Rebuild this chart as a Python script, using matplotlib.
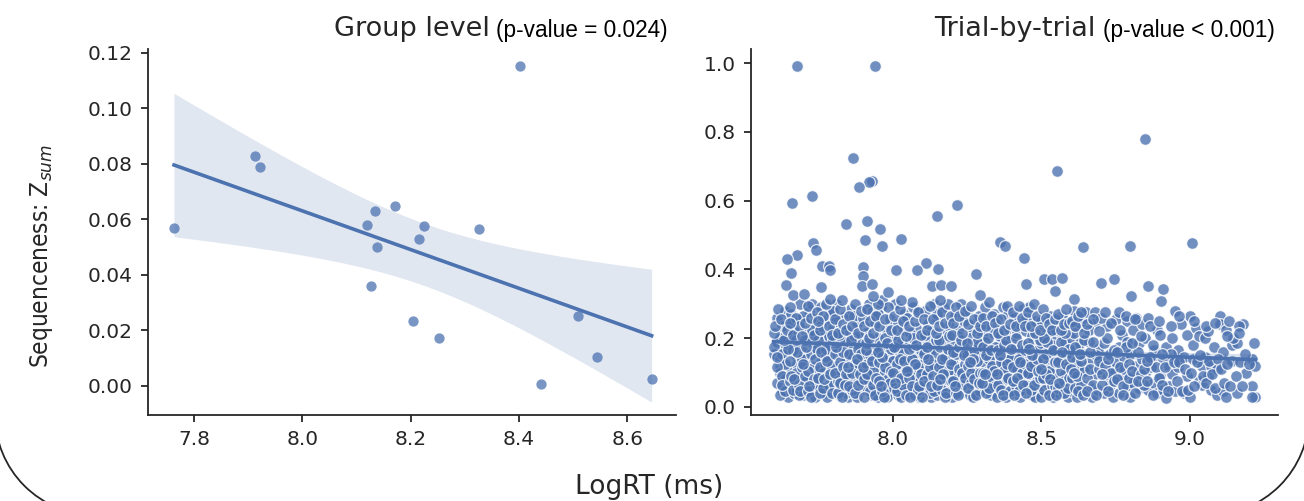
import numpy as np
import matplotlib
matplotlib.use("Agg")
import matplotlib.pyplot as plt
from matplotlib.patches import Arc

# ---------------- data ----------------
group_x = [7.763, 7.913, 7.922, 8.119, 8.135, 8.171, 8.138, 8.126, 8.224,
           8.216, 8.204, 8.252, 8.327, 8.402, 8.440, 8.509, 8.545, 8.645]
group_y = [0.057, 0.083, 0.079, 0.058, 0.063, 0.065, 0.050, 0.036, 0.0575,
           0.053, 0.0235, 0.0172, 0.0566, 0.1152, 0.0008, 0.0253, 0.0104, 0.0025]

trial_outliers = [
    (7.680, 0.992), (7.941, 0.992), (8.849, 0.780), (7.866, 0.724), (8.553, 0.687),
    (7.930, 0.658), (7.922, 0.655), (7.887, 0.639), (7.728, 0.614), (7.662, 0.592),
    (8.216, 0.588), (8.149, 0.555), (7.842, 0.533), (7.914, 0.540), (7.958, 0.518),
    (8.028, 0.489), (7.907, 0.485), (7.732, 0.478), (7.963, 0.468), (8.361, 0.479),
    (8.378, 0.469), (8.641, 0.466), (8.799, 0.468), (9.008, 0.478), (7.742, 0.456),
    (7.678, 0.443), (7.645, 0.429), (8.443, 0.434), (8.114, 0.420), (7.762, 0.410),
    (7.785, 0.410), (7.790, 0.398), (7.900, 0.407), (8.011, 0.398), (8.081, 0.398),
    (8.152, 0.402), (7.658, 0.390), (8.281, 0.387), (7.902, 0.380), (8.510, 0.373),
    (8.536, 0.371), (8.569, 0.376), (8.744, 0.371), (8.700, 0.361), (8.860, 0.351),
    (8.910, 0.343), (8.448, 0.358), (7.641, 0.354), (8.133, 0.351), (8.164, 0.354),
    (8.198, 0.351), (7.896, 0.351), (7.931, 0.358), (7.759, 0.348), (8.546, 0.337),
    (7.664, 0.327), (7.703, 0.329), (8.293, 0.327), (8.802, 0.324), (7.984, 0.334),
    (7.935, 0.324), (8.904, 0.307), (8.610, 0.314), (7.790, 0.314),
]

trial_cloud_a = [
    (7.60,0.155),(7.61,0.26),(7.61,0.19),(7.62,0.12),(7.62,0.10),(7.63,0.215),(7.63,0.05),
    (7.64,0.08),(7.64,0.165),(7.64,0.28),(7.63,0.235),(7.62,0.14),
    (7.65,0.03),(7.66,0.11),(7.66,0.27),(7.67,0.22),(7.67,0.06),(7.68,0.185),(7.68,0.145),
    (7.66,0.245),(7.69,0.09),(7.69,0.30),(7.67,0.04),(7.68,0.125),(7.65,0.20),(7.69,0.255),
    (7.70,0.035),(7.70,0.16),(7.71,0.22),(7.71,0.075),(7.72,0.28),(7.72,0.125),(7.73,0.19),
    (7.73,0.05),(7.74,0.245),(7.74,0.10),(7.71,0.14),(7.73,0.30),(7.70,0.265),(7.72,0.205),(7.74,0.03),
    (7.75,0.17),(7.75,0.065),(7.76,0.29),(7.76,0.13),(7.77,0.21),(7.77,0.04),(7.78,0.255),
    (7.78,0.095),(7.79,0.155),(7.79,0.18),(7.76,0.235),(7.77,0.115),(7.78,0.03),(7.79,0.275),(7.75,0.195),
    (7.80,0.06),(7.80,0.23),(7.81,0.12),(7.81,0.30),(7.82,0.17),(7.82,0.035),(7.83,0.205),
    (7.83,0.085),(7.84,0.265),(7.84,0.145),(7.81,0.25),(7.82,0.105),(7.83,0.05),(7.84,0.19),(7.80,0.28),
    (7.85,0.03),(7.85,0.22),(7.86,0.135),(7.86,0.285),(7.87,0.07),(7.87,0.175),(7.88,0.245),
    (7.88,0.105),(7.89,0.20),(7.89,0.045),(7.86,0.155),(7.87,0.265),(7.88,0.03),(7.89,0.12),(7.85,0.09),
    (7.90,0.26),(7.90,0.14),(7.91,0.06),(7.91,0.215),(7.92,0.30),(7.92,0.10),(7.93,0.17),
    (7.93,0.035),(7.94,0.24),(7.94,0.125),(7.91,0.185),(7.92,0.08),(7.93,0.275),(7.94,0.05),(7.90,0.155),
    (7.95,0.20),(7.95,0.03),(7.96,0.11),(7.96,0.29),(7.97,0.16),(7.97,0.065),(7.98,0.225),
    (7.98,0.135),(7.99,0.045),(7.99,0.255),(7.96,0.18),(7.97,0.095),(7.98,0.03),(7.99,0.145),(7.95,0.27),
    (8.00,0.08),(8.00,0.21),(8.01,0.15),(8.01,0.30),(8.02,0.035),(8.02,0.245),(8.03,0.12),
    (8.03,0.185),(8.04,0.06),(8.04,0.27),(8.01,0.10),(8.02,0.165),(8.03,0.03),(8.04,0.225),(8.00,0.135),
    (8.05,0.26),(8.05,0.045),(8.06,0.19),(8.06,0.11),(8.07,0.29),(8.07,0.07),(8.08,0.155),
    (8.08,0.23),(8.09,0.03),(8.09,0.125),(8.06,0.215),(8.07,0.175),(8.08,0.09),(8.09,0.275),(8.05,0.14),
    (8.10,0.05),(8.10,0.20),(8.11,0.135),(8.11,0.28),(8.12,0.085),(8.12,0.24),(8.13,0.165),
    (8.13,0.03),(8.14,0.115),(8.14,0.30),(8.11,0.06),(8.12,0.185),(8.13,0.22),(8.14,0.15),(8.10,0.105),
    (8.15,0.255),(8.15,0.035),(8.16,0.175),(8.16,0.10),(8.17,0.29),(8.17,0.06),(8.18,0.215),
    (8.18,0.14),(8.19,0.045),(8.19,0.235),(8.16,0.125),(8.17,0.195),(8.18,0.08),(8.19,0.16),(8.15,0.27),
    (8.20,0.03),(8.20,0.19),(8.21,0.12),(8.21,0.265),(8.22,0.07),(8.22,0.225),(8.23,0.15),
    (8.23,0.30),(8.24,0.05),(8.24,0.175),(8.21,0.095),(8.22,0.205),(8.23,0.04),(8.24,0.25),(8.20,0.135),
    (8.25,0.28),(8.25,0.085),(8.26,0.16),(8.26,0.035),(8.27,0.22),(8.27,0.115),(8.28,0.06),
    (8.28,0.245),(8.29,0.18),(8.29,0.135),(8.26,0.20),(8.27,0.03),(8.28,0.10),(8.29,0.265),(8.25,0.15),
    (8.30,0.05),(8.30,0.21),(8.31,0.125),(8.31,0.29),(8.32,0.08),(8.32,0.17),(8.33,0.235),
    (8.33,0.035),(8.34,0.145),(8.34,0.27),(8.31,0.19),(8.32,0.105),(8.33,0.06),(8.34,0.215),(8.30,0.155),
    (8.35,0.255),(8.35,0.03),(8.36,0.185),(8.36,0.095),(8.37,0.29),(8.37,0.14),(8.38,0.055),
    (8.38,0.225),(8.39,0.165),(8.39,0.11),(8.36,0.205),(8.37,0.075),(8.38,0.03),(8.39,0.27),(8.35,0.12),
    (8.40,0.04),(8.40,0.195),(8.41,0.13),(8.41,0.26),(8.42,0.07),(8.42,0.215),(8.43,0.155),
    (8.43,0.03),(8.44,0.09),(8.44,0.285),(8.41,0.175),(8.42,0.11),(8.43,0.24),(8.44,0.05),(8.40,0.145),
    (8.45,0.22),(8.45,0.065),(8.46,0.15),(8.46,0.29),(8.47,0.035),(8.47,0.18),(8.48,0.11),
    (8.48,0.25),(8.49,0.045),(8.49,0.165),(8.46,0.095),(8.47,0.205),(8.48,0.03),(8.49,0.125),(8.45,0.26),
    (8.50,0.03),(8.50,0.185),(8.51,0.12),(8.51,0.235),(8.52,0.07),(8.52,0.16),(8.53,0.265),
    (8.53,0.045),(8.54,0.205),(8.54,0.10),(8.51,0.05),(8.52,0.215),(8.53,0.14),(8.54,0.03),(8.50,0.25),
    (8.55,0.17),(8.55,0.085),(8.56,0.245),(8.56,0.04),(8.57,0.13),(8.57,0.21),(8.58,0.06),
    (8.58,0.185),(8.59,0.115),(8.59,0.03),(8.56,0.15),(8.57,0.265),(8.58,0.095),(8.55,0.225),
    (8.60,0.045),(8.60,0.20),(8.61,0.13),(8.61,0.28),(8.62,0.07),(8.62,0.17),(8.63,0.235),
    (8.63,0.10),(8.64,0.05),(8.64,0.155),(8.61,0.215),(8.62,0.03),(8.63,0.185),(8.64,0.26),
    (8.65,0.12),(8.65,0.275),(8.66,0.06),(8.66,0.19),(8.67,0.14),(8.67,0.03),(8.68,0.245),
    (8.68,0.095),(8.69,0.17),(8.69,0.05),(8.66,0.225),(8.68,0.275),
    (8.70,0.13),(8.71,0.185),(8.71,0.04),(8.72,0.235),(8.72,0.09),(8.73,0.155),(8.74,0.03),
    (8.74,0.11),(8.70,0.26),(8.73,0.065),(8.72,0.20),
    (8.75,0.255),(8.75,0.13),(8.76,0.04),(8.76,0.175),(8.77,0.09),(8.77,0.21),(8.78,0.145),
    (8.79,0.06),(8.79,0.25),(8.78,0.11),(8.76,0.275),(8.79,0.19),
    (8.80,0.03),(8.80,0.155),(8.81,0.225),(8.81,0.09),(8.82,0.12),(8.82,0.26),(8.83,0.055),
    (8.83,0.185),(8.84,0.14),(8.84,0.24),(8.81,0.07),
    (8.85,0.20),(8.85,0.10),(8.86,0.05),(8.86,0.26),(8.87,0.13),(8.88,0.07),(8.88,0.165),
    (8.89,0.225),(8.89,0.04),(8.87,0.115),
    (8.90,0.21),(8.90,0.09),(8.91,0.14),(8.91,0.05),(8.92,0.025),(8.92,0.175),(8.93,0.06),
    (8.93,0.12),(8.94,0.20),(8.94,0.095),
    (8.95,0.28),(8.95,0.045),(8.96,0.165),(8.96,0.115),(8.97,0.24),(8.98,0.04),(8.98,0.145),
    (8.99,0.21),(8.99,0.09),
    (9.00,0.265),(9.00,0.03),(9.01,0.18),(9.01,0.14),(9.02,0.23),(9.03,0.075),(9.03,0.205),
    (9.04,0.12),(9.04,0.065),
    (9.05,0.20),(9.05,0.145),(9.06,0.09),(9.06,0.22),(9.07,0.12),(9.07,0.05),(9.08,0.175),
    (9.09,0.035),(9.09,0.11),
    (9.10,0.265),(9.10,0.24),(9.11,0.045),(9.11,0.16),(9.12,0.225),(9.12,0.03),(9.13,0.25),
    (9.14,0.18),(9.14,0.135),
    (9.16,0.185),(9.16,0.04),(9.17,0.13),(9.18,0.24),(9.19,0.10),(9.21,0.14),(9.21,0.06),
    (9.22,0.03),(9.21,0.03),(9.22,0.12),
]

trial_cloud_b = [
    (7.61,0.07),(7.62,0.035),(7.60,0.175),(7.63,0.155),(7.64,0.125),(7.61,0.115),(7.63,0.09),
    (7.62,0.20),(7.64,0.045),(7.60,0.215),(7.63,0.065),(7.61,0.145),
    (7.655,0.075),(7.665,0.165),(7.675,0.10),(7.685,0.035),(7.695,0.14),(7.655,0.135),(7.665,0.05),
    (7.675,0.195),(7.685,0.065),(7.695,0.115),(7.66,0.09),(7.68,0.16),(7.69,0.045),(7.67,0.08),(7.65,0.17),
    (7.705,0.09),(7.715,0.045),(7.725,0.155),(7.735,0.115),(7.745,0.065),(7.705,0.195),(7.715,0.105),
    (7.725,0.03),(7.735,0.08),(7.745,0.17),(7.70,0.125),(7.72,0.06),(7.74,0.14),(7.73,0.225),(7.71,0.175),
    (7.755,0.04),(7.765,0.10),(7.775,0.145),(7.785,0.065),(7.795,0.12),(7.755,0.115),(7.765,0.055),
    (7.775,0.17),(7.785,0.205),(7.795,0.04),(7.75,0.085),(7.77,0.08),(7.79,0.095),(7.76,0.16),(7.78,0.135),
    (7.805,0.155),(7.815,0.075),(7.825,0.13),(7.835,0.16),(7.845,0.04),(7.805,0.10),(7.815,0.04),
    (7.825,0.07),(7.835,0.115),(7.845,0.095),(7.80,0.195),(7.82,0.21),(7.84,0.065),(7.83,0.03),(7.81,0.175),
    (7.855,0.155),(7.865,0.05),(7.875,0.125),(7.885,0.17),(7.895,0.075),(7.855,0.06),(7.865,0.10),
    (7.875,0.04),(7.885,0.065),(7.895,0.155),(7.85,0.115),(7.87,0.21),(7.89,0.095),(7.86,0.195),(7.88,0.14),
    (7.905,0.08),(7.915,0.125),(7.925,0.045),(7.935,0.105),(7.945,0.16),(7.905,0.03),(7.915,0.095),
    (7.925,0.15),(7.935,0.065),(7.945,0.085),(7.90,0.115),(7.92,0.20),(7.94,0.035),(7.93,0.135),(7.91,0.165),
    (7.955,0.13),(7.965,0.045),(7.975,0.115),(7.985,0.08),(7.995,0.17),(7.955,0.075),(7.965,0.145),
    (7.975,0.20),(7.985,0.055),(7.995,0.105),(7.95,0.16),(7.97,0.03),(7.99,0.07),(7.96,0.06),(7.98,0.185),
    (8.005,0.055),(8.015,0.125),(8.025,0.09),(8.035,0.155),(8.045,0.105),(8.005,0.175),(8.015,0.045),
    (8.025,0.14),(8.035,0.065),(8.045,0.035),(8.00,0.10),(8.02,0.195),(8.04,0.135),(8.03,0.085),(8.01,0.07),
    (8.055,0.085),(8.065,0.14),(8.075,0.035),(8.085,0.115),(8.095,0.165),(8.055,0.17),(8.065,0.06),
    (8.075,0.125),(8.085,0.05),(8.095,0.095),(8.05,0.105),(8.07,0.20),(8.09,0.06),(8.06,0.03),(8.08,0.18),
    (8.105,0.155),(8.115,0.095),(8.125,0.04),(8.135,0.125),(8.145,0.07),(8.105,0.075),(8.115,0.175),
    (8.125,0.115),(8.135,0.09),(8.145,0.195),(8.10,0.03),(8.12,0.14),(8.14,0.045),(8.13,0.06),(8.11,0.21),
    (8.155,0.115),(8.165,0.05),(8.175,0.145),(8.185,0.105),(8.195,0.075),(8.155,0.195),(8.165,0.14),
    (8.175,0.03),(8.185,0.17),(8.195,0.125),(8.15,0.065),(8.17,0.095),(8.19,0.205),(8.16,0.08),(8.18,0.04),
    (8.205,0.075),(8.215,0.155),(8.225,0.11),(8.235,0.065),(8.245,0.125),(8.205,0.16),(8.215,0.04),
    (8.225,0.175),(8.235,0.10),(8.245,0.085),(8.20,0.21),(8.22,0.035),(8.24,0.15),(8.23,0.195),(8.21,0.06),
    (8.255,0.12),(8.265,0.07),(8.275,0.165),(8.285,0.135),(8.295,0.045),(8.255,0.055),(8.265,0.10),
    (8.275,0.08),(8.285,0.19),(8.295,0.10),(8.25,0.185),(8.27,0.14),(8.29,0.07),(8.26,0.13),(8.28,0.035),
    (8.305,0.10),(8.315,0.04),(8.325,0.14),(8.335,0.085),(8.345,0.06),(8.305,0.175),(8.315,0.15),
    (8.325,0.055),(8.335,0.12),(8.345,0.175),(8.30,0.07),(8.32,0.20),(8.34,0.105),(8.31,0.095),(8.33,0.165),
    (8.355,0.065),(8.365,0.13),(8.375,0.105),(8.385,0.08),(8.395,0.14),(8.355,0.165),(8.365,0.05),
    (8.375,0.18),(8.385,0.125),(8.395,0.045),(8.35,0.095),(8.37,0.035),(8.39,0.085),(8.36,0.15),(8.38,0.195),
    (8.405,0.115),(8.415,0.06),(8.425,0.14),(8.435,0.10),(8.445,0.165),(8.405,0.075),(8.415,0.20),
    (8.425,0.045),(8.435,0.18),(8.445,0.125),(8.40,0.17),(8.42,0.085),(8.44,0.065),(8.41,0.035),(8.43,0.13),
    (8.455,0.10),(8.465,0.05),(8.475,0.125),(8.485,0.075),(8.495,0.195),(8.455,0.185),(8.465,0.12),
    (8.475,0.065),(8.485,0.14),(8.495,0.085),(8.45,0.04),(8.47,0.15),(8.49,0.105),(8.46,0.17),(8.48,0.215),
    (8.505,0.085),(8.515,0.155),(8.525,0.105),(8.535,0.065),(8.545,0.13),(8.505,0.14),(8.515,0.095),
    (8.525,0.035),(8.535,0.18),(8.545,0.06),(8.50,0.11),(8.52,0.19),(8.54,0.165),(8.51,0.20),(8.53,0.08),
    (8.555,0.055),(8.565,0.105),(8.575,0.075),(8.585,0.15),(8.595,0.085),(8.555,0.13),(8.565,0.19),
    (8.575,0.04),(8.585,0.125),(8.595,0.17),(8.55,0.035),(8.57,0.16),(8.59,0.055),(8.56,0.07),(8.58,0.215),
    (8.605,0.085),(8.615,0.055),(8.625,0.12),(8.635,0.065),(8.645,0.105),(8.605,0.145),(8.615,0.175),
    (8.625,0.045),(8.635,0.135),(8.645,0.195),(8.60,0.11),(8.62,0.09),(8.64,0.035),(8.61,0.10),(8.63,0.155),
    (8.655,0.085),(8.665,0.11),(8.675,0.065),(8.685,0.15),(8.695,0.11),(8.655,0.045),(8.665,0.16),
    (8.675,0.19),(8.685,0.035),(8.695,0.135),
    (8.705,0.065),(8.715,0.12),(8.725,0.045),(8.735,0.10),(8.745,0.165),(8.705,0.095),(8.725,0.14),(8.745,0.075),
    (8.755,0.08),(8.765,0.115),(8.775,0.06),(8.785,0.175),(8.795,0.125),(8.755,0.16),(8.775,0.035),(8.795,0.085),
    (8.805,0.105),(8.815,0.04),(8.825,0.16),(8.835,0.095),(8.845,0.065),(8.805,0.185),(8.825,0.075),(8.845,0.11),
    (8.855,0.075),(8.865,0.145),(8.875,0.035),(8.885,0.115),(8.895,0.085),(8.855,0.135),(8.875,0.18),
    (8.905,0.065),(8.915,0.115),(8.925,0.045),(8.935,0.155),(8.945,0.13),(8.905,0.155),
    (8.955,0.075),(8.965,0.13),(8.975,0.045),(8.985,0.11),(8.995,0.05),
    (9.005,0.10),(9.015,0.06),(9.025,0.13),(9.035,0.15),(9.045,0.09),
    (9.055,0.07),(9.065,0.135),(9.075,0.095),(9.085,0.055),(9.095,0.14),
    (9.105,0.11),(9.115,0.07),(9.125,0.125),(9.135,0.06),(9.145,0.20),
    (9.155,0.09),(9.165,0.235),(9.175,0.06),(9.185,0.155),(9.20,0.125),(9.215,0.185),
]

trial_cloud_c = [
    (7.605,0.235),(7.615,0.285),(7.625,0.255),(7.635,0.195),(7.645,0.225),(7.655,0.29),
    (7.665,0.21),(7.675,0.26),(7.685,0.235),(7.695,0.205),(7.655,0.245),
    (7.705,0.245),(7.715,0.295),(7.725,0.26),(7.735,0.21),(7.745,0.275),(7.755,0.225),
    (7.765,0.265),(7.775,0.30),(7.785,0.235),(7.795,0.21),(7.75,0.25),
    (7.805,0.255),(7.815,0.215),(7.825,0.285),(7.835,0.24),(7.845,0.225),(7.855,0.265),
    (7.865,0.235),(7.875,0.30),(7.885,0.215),(7.895,0.28),(7.83,0.31),
    (7.905,0.235),(7.915,0.285),(7.925,0.25),(7.935,0.215),(7.945,0.265),(7.955,0.235),
    (7.965,0.31),(7.975,0.255),(7.985,0.29),(7.995,0.225),(7.95,0.30),
    (8.005,0.265),(8.015,0.225),(8.025,0.285),(8.035,0.25),(8.045,0.205),(8.055,0.235),
    (8.065,0.305),(8.075,0.25),(8.085,0.275),(8.095,0.21),(8.03,0.31),
    (8.105,0.255),(8.115,0.225),(8.125,0.295),(8.135,0.255),(8.145,0.215),(8.155,0.235),
    (8.165,0.275),(8.175,0.245),(8.185,0.30),(8.195,0.265),(8.16,0.31),
    (8.205,0.245),(8.215,0.29),(8.225,0.265),(8.235,0.215),(8.245,0.28),(8.255,0.24),
    (8.265,0.295),(8.275,0.255),(8.285,0.215),(8.295,0.235),
    (8.305,0.26),(8.315,0.235),(8.325,0.305),(8.335,0.265),(8.345,0.245),(8.355,0.215),
    (8.365,0.255),(8.375,0.225),(8.385,0.295),(8.395,0.24),
    (8.405,0.275),(8.415,0.235),(8.425,0.295),(8.435,0.26),(8.445,0.235),(8.455,0.275),
    (8.465,0.235),(8.475,0.30),(8.485,0.265),(8.495,0.225),
    (8.505,0.285),(8.515,0.26),(8.525,0.24),(8.535,0.225),(8.545,0.255),(8.555,0.27),
    (8.565,0.225),(8.575,0.24),(8.585,0.285),(8.595,0.245),
    (8.605,0.25),(8.615,0.235),(8.625,0.265),(8.635,0.275),(8.645,0.215),(8.655,0.24),
    (8.675,0.255),(8.695,0.22),
    (8.715,0.275),(8.735,0.245),(8.765,0.225),(8.785,0.265),(8.815,0.255),(8.835,0.205),
    (8.865,0.235),(8.895,0.25),(8.935,0.235),(8.965,0.265),(9.015,0.25),(9.055,0.235),
    (9.085,0.245),(9.125,0.205),(9.165,0.215),
]

trial_points = trial_cloud_a + trial_cloud_b + trial_cloud_c + trial_outliers
trial_x = [p[0] for p in trial_points]
trial_y = [p[1] for p in trial_points]

left_xticks = [7.8, 8.0, 8.2, 8.4, 8.6]
left_yticks = [0.00, 0.02, 0.04, 0.06, 0.08, 0.10, 0.12]
right_xticks = [8.0, 8.5, 9.0]
right_yticks = [0.0, 0.2, 0.4, 0.6, 0.8, 1.0]

left_title = "Group level"
left_p = "(p-value = 0.024)"
right_title = "Trial-by-trial"
right_p = "(p-value < 0.001)"

# ---------------- style ----------------
BLUE = "#4C72B0"
DARK = "#262626"
plt.rcParams["font.family"] = ["DejaVu Sans"]


def fit_band(x, y, tval):
    x = np.asarray(x, float)
    y = np.asarray(y, float)
    n = len(x)
    b, a = np.polyfit(x, y, 1)
    xs = np.linspace(x.min(), x.max(), 100)
    yhat = a + b * xs
    resid = y - (a + b * x)
    s = np.sqrt(np.sum(resid ** 2) / (n - 2))
    se = s * np.sqrt(1.0 / n + (xs - x.mean()) ** 2 / np.sum((x - x.mean()) ** 2))
    return xs, yhat, yhat - tval * se, yhat + tval * se


fig = plt.figure(figsize=(13.04, 5.01), dpi=100)
axL = fig.add_axes([0.1135, 0.1717, 0.4049, 0.7305])
axR = fig.add_axes([0.5759, 0.1717, 0.4041, 0.7305])

# left: group level
xs, yh, lo, hi = fit_band(group_x, group_y, 1.8)
axL.fill_between(xs, lo, hi, color=BLUE, alpha=0.17, lw=0)
axL.plot(xs, yh, color=BLUE, lw=2.6)
axL.scatter(group_x, group_y, s=55, color=BLUE, alpha=0.75, lw=0, zorder=3)
axL.set_xlim(7.715, 8.69)
axL.set_ylim(-0.01045, 0.1214)
axL.set_xticks(left_xticks)
axL.set_xticklabels([f"{v:.1f}" for v in left_xticks])
axL.set_yticks(left_yticks)
axL.set_yticklabels([f"{v:.2f}" for v in left_yticks])

# right: trial by trial
axR.scatter(trial_x, trial_y, s=72, color=BLUE, alpha=0.8,
            edgecolors="white", linewidths=0.9, zorder=2)
xs, yh, lo, hi = fit_band(trial_x, trial_y, 1.964)
axR.fill_between(xs, lo, hi, color=BLUE, alpha=0.2, lw=0, zorder=3)
axR.plot(xs, yh, color=BLUE, lw=2.6, zorder=4)
axR.set_xlim(7.524, 9.296)
axR.set_ylim(-0.0233, 1.041)
axR.set_xticks(right_xticks)
axR.set_xticklabels([f"{v:.1f}" for v in right_xticks])
axR.set_yticks(right_yticks)
axR.set_yticklabels([f"{v:.1f}" for v in right_yticks])

for ax in (axL, axR):
    for side in ("top", "right"):
        ax.spines[side].set_visible(False)
    for side in ("left", "bottom"):
        ax.spines[side].set_color(DARK)
        ax.spines[side].set_linewidth(1.3)
    ax.tick_params(axis="both", labelsize=14.5, colors=DARK, length=5, width=1.3, pad=6)

# titles: large name + smaller p-value text
for ax, t, p, xr in ((axL, left_title, left_p, 0.985), (axR, right_title, right_p, 0.994)):
    pt = ax.text(xr, 1.02, p, transform=ax.transAxes, ha="right", va="bottom",
                 fontsize=16.3, family=["Liberation Sans", "DejaVu Sans"], color="black")
    ax.annotate(t, xy=(0, 0), xycoords=pt, xytext=(-5, 0), textcoords="offset points",
                ha="right", va="bottom", fontsize=19.5, color=DARK)

# axis labels
fig.text(0.0315, 0.49, "Sequenceness: Z$_{sum}$", rotation=90, ha="center", va="center",
         fontsize=17.5, fontstretch="condensed", color=DARK)
fig.text(0.498, 0.028, "LogRT (ms)", ha="center", va="center", fontsize=19, color=DARK)

# rounded frame corners at the bottom
ov = fig.add_axes([0, 0, 1, 1], zorder=-1)
ov.set_xlim(0, 1304)
ov.set_ylim(501, 0)
ov.axis("off")
ov.add_patch(Arc((95, 415), 200, 200, theta1=90, theta2=180, color=DARK, lw=1.3))
ov.add_patch(Arc((1209, 415), 200, 200, theta1=0, theta2=90, color=DARK, lw=1.3))

fig.savefig("out.png", dpi=100)
